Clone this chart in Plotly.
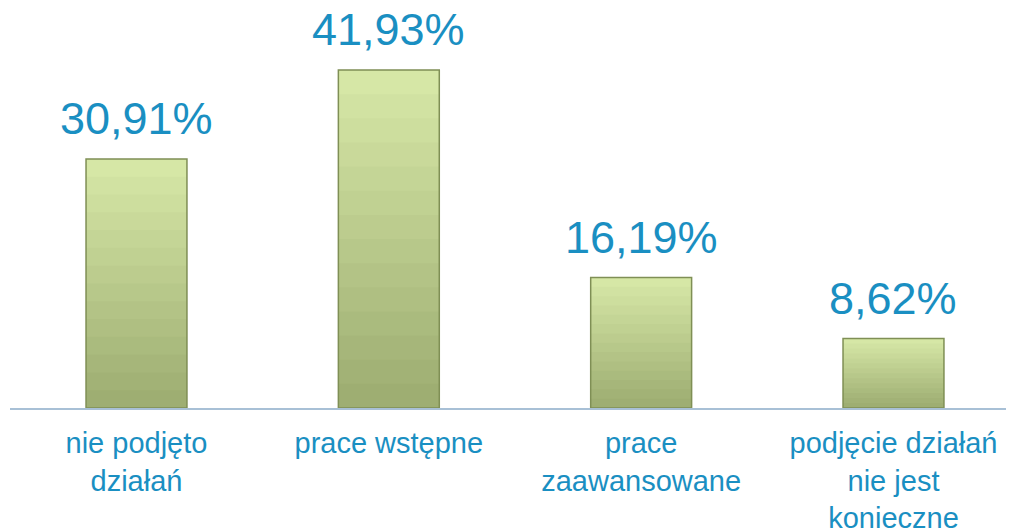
import plotly.graph_objects as go

categories = ["nie podjęto<br>działań", "prace wstępne", "prace<br>zaawansowane", "podjęcie działań<br>nie jest<br>konieczne"]
values = [30.91, 41.93, 16.19, 8.62]
value_labels = ["30,91%", "41,93%", "16,19%", "8,62%"]

BLUE = "#1A8FC2"
xs = list(range(len(categories)))

fig = go.Figure()

# gradient-like bars: layered overlay from dark (bottom) to light (top)
top_rgb = (214, 231, 166)
bot_rgb = (158, 174, 114)
N = 14
for k in range(N):
    t = k / (N - 1)
    c = tuple(int(bot_rgb[i] + (top_rgb[i] - bot_rgb[i]) * t) for i in range(3))
    frac = k / N
    fig.add_trace(go.Bar(
        x=xs, y=[v * (1 - frac) for v in values], base=[v * frac for v in values],
        width=0.4, marker=dict(color="rgb(%d,%d,%d)" % c, line=dict(width=0)),
        hoverinfo="skip", showlegend=False,
    ))
# outline
fig.add_trace(go.Bar(
    x=xs, y=values, width=0.4,
    marker=dict(color="rgba(0,0,0,0)", line=dict(color="#7F8F55", width=1.5)),
    showlegend=False,
))

for x, v, lab in zip(xs, values, value_labels):
    fig.add_annotation(x=x, y=v, text=lab, showarrow=False, yanchor="bottom",
                       yshift=13, font=dict(size=45, color=BLUE, family="Liberation Sans, Arial"))

fig.update_layout(
    width=1014, height=532,
    margin=dict(l=2, r=0, t=0, b=132),
    paper_bgcolor="white", plot_bgcolor="white",
    barmode="overlay",
    font=dict(family="Liberation Sans, Arial", color=BLUE),
    xaxis=dict(
        tickmode="array", tickvals=xs, ticktext=categories,
        range=[-0.5013, 3.5093], showline=True, linecolor="#A8C0D6", linewidth=2,
        showgrid=False, zeroline=False, ticks="", tickfont=dict(size=29, color=BLUE),
        ticklabelstandoff=8,
    ),
    yaxis=dict(range=[0, 49.63], visible=False, showgrid=False, zeroline=False),
)

fig.write_html("out.html")
